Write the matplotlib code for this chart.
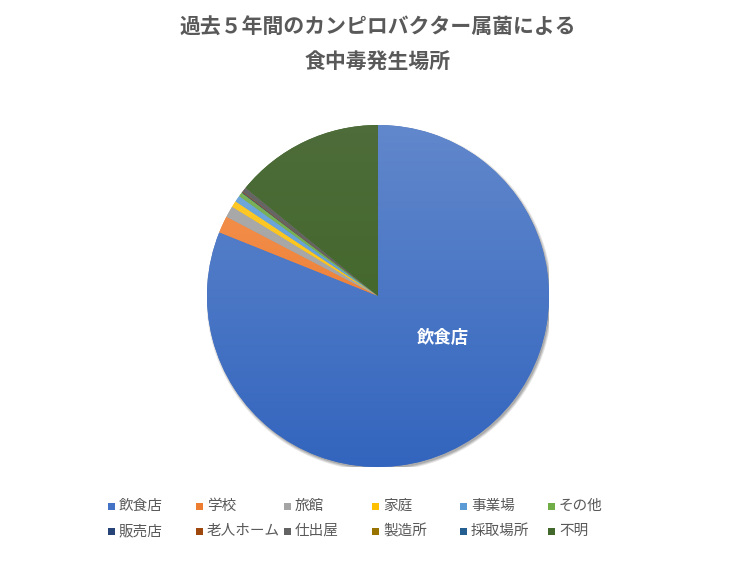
import numpy as np
import matplotlib
matplotlib.use("Agg")
import matplotlib.pyplot as plt
from matplotlib.colors import LinearSegmentedColormap, to_rgb, rgb_to_hsv, hsv_to_rgb
from matplotlib.patches import Rectangle, Circle

plt.rcParams['font.family'] = ['Noto Sans CJK JP', 'DejaVu Sans']

# data (counts, 5 years)
places = ['飲食店', '学校', '旅館', '家庭', '事業場', 'その他',
          '販売店', '老人ホーム', '仕出屋', '製造所', '採取場所', '不明']
counts = [1219, 24, 16, 9, 9, 6, 1, 1, 6, 0.3, 0.3, 212]
colors = ['#4472C4', '#ED7D31', '#A5A5A5', '#FFC000', '#5B9BD5', '#70AD47',
          '#264478', '#9E480E', '#636363', '#997300', '#255E91', '#43682B']


def shade(c, smul, vmul):
    h, s, v = rgb_to_hsv(np.array(to_rgb(c)))
    return hsv_to_rgb([h, min(s * smul, 1), min(v * vmul, 1)])


W, H = 756, 567
fig = plt.figure(figsize=(W / 100, H / 100), dpi=100)

# pie centre (378, 296), radius 171 px
cx, cy, r = 378, 296, 171
ax = fig.add_axes([(cx - r) / W, (H - cy - r) / H, 2 * r / W, 2 * r / H])

# soft shadow under the pie
for k, a in enumerate([0.10, 0.12, 0.15]):
    ax.add_patch(Circle((0.008, -0.012), 1.012 - k * 0.006, facecolor='#000000',
                        alpha=a, edgecolor='none', zorder=0.5))

wedges, _ = ax.pie(counts, colors=colors, startangle=90, counterclock=False,
                   radius=1, wedgeprops=dict(linewidth=0, zorder=1))

# excel-like vertical gradient on each slice
grad = np.linspace(0, 1, 256).reshape(-1, 1)
for w, c in zip(wedges, colors):
    top = shade(c, 0.80, 1.04)
    bottom = shade(c, 1.12, 0.97)
    cmap = LinearSegmentedColormap.from_list('g', [top, bottom])
    im = ax.imshow(grad, cmap=cmap, extent=(-1, 1, -1, 1), origin='upper',
                   aspect='auto', zorder=2, interpolation='bilinear')
    im.set_clip_path(w)

ax.set_xlim(-1, 1)
ax.set_ylim(-1, 1)
ax.set_aspect('equal')
ax.axis('off')

ax.text(0.38, -0.245, places[0], color='white', fontsize=12.5,
        fontweight='bold', ha='center', va='center', zorder=5)

# title
title_color = '#595959'
fig.text(0.5, 1 - 27 / H, '過去５年間のカンピロバクター属菌による', ha='center',
         va='center', fontsize=15, fontweight='bold', color=title_color)
fig.text(0.5, 1 - 62 / H, '食中毒発生場所', ha='center', va='center',
         fontsize=15, fontweight='bold', color=title_color)

# legend, excel style fixed columns
for i, (name, c) in enumerate(zip(places, colors)):
    row, col = divmod(i, 6)
    x = 108 + col * 88
    y = 506 + row * 25
    fig.add_artist(Rectangle((x / W, 1 - (y + 3.5) / H), 7 / W, 7 / H,
                             transform=fig.transFigure, facecolor=c,
                             edgecolor='none'))
    fig.text((x + 11) / W, 1 - y / H, name, ha='left', va='center',
             fontsize=10.5, color=title_color)

fig.savefig('out.png', dpi=100)
